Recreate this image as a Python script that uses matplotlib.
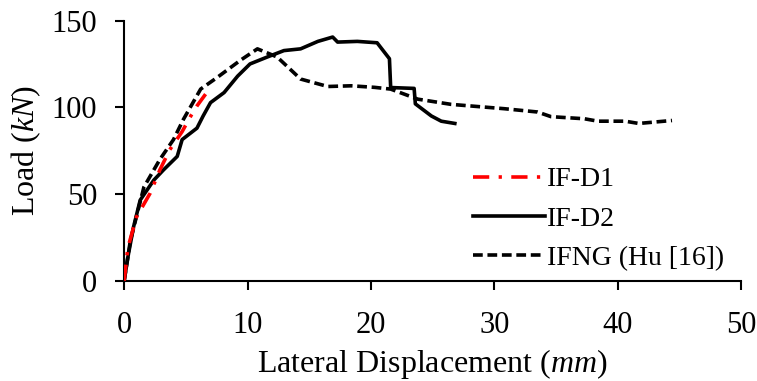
import matplotlib
matplotlib.use("Agg")
import matplotlib.pyplot as plt

plt.rcParams['font.family'] = 'Liberation Serif'
plt.rcParams['mathtext.fontset'] = 'custom'
plt.rcParams['mathtext.rm'] = 'Liberation Serif'
plt.rcParams['mathtext.it'] = 'Liberation Serif:italic'

# curvas carga-desplazamiento
d1_x = [0, 0.3, 1.0, 2.1, 2.9, 3.7, 4.7, 5.4, 5.9, 6.6]
d1_y = [0, 19, 36.8, 50.4, 64, 75.6, 86, 95, 100.8, 107.6]

d2_x = [0, 0.35, 0.76, 1.3, 2.4, 3.2, 4.3, 4.7, 5.9, 6.4, 7.0, 8.1, 9.2, 10.2, 11.6,
        12.95, 14.3, 15.7, 16.9, 17.3, 18.9, 20.5, 21.5, 21.6, 23.5, 23.6, 24.9, 25.7, 26.8]
d2_y = [0, 15.5, 31, 46.5, 58, 64, 71.7, 81.4, 88, 95, 102.7, 108.5, 118, 125, 129,
        132.7, 133.7, 138, 140.5, 137.6, 138, 137.2, 128, 111.4, 110.9, 102, 95, 92, 90.7]

ifng_x = [0, 0.5, 1.6, 2.9, 4.0, 4.8, 6.2, 7.5, 9.4, 10.8, 12.4, 14.3, 16.5, 18.4, 20.3,
          21.6, 23.8, 26.5, 30.8, 33.5, 34.6, 37.3, 38.4, 40.6, 41.7, 44.4]
ifng_y = [0, 23, 54, 70, 81.4, 93, 110.5, 117, 127, 133.7, 129, 116.3, 112, 112.4, 111.5,
          110.5, 104.7, 101.7, 99.2, 97.3, 94.6, 93.4, 92, 92, 90.7, 92.4]

x_ticks = [0, 10, 20, 30, 40, 50]
y_ticks = [0, 50, 100, 150]

fig = plt.figure(figsize=(7.57, 3.81), dpi=100)
ax = fig.add_axes([0.164, 0.263, 0.815, 0.683])

ax.plot(d1_x, d1_y, color='red', lw=2.6, dashes=(4.5, 2.6, 0.9, 2.6), label='IF-D1', zorder=3)
ax.plot(d2_x, d2_y, color='black', lw=2.6, label='IF-D2')
ax.plot(ifng_x, ifng_y, color='black', lw=2.6, dashes=(2.7, 1.3), label='IFNG (Hu [16])')

ax.set_xlim(0, 50)
ax.set_ylim(0, 150)
ax.set_xticks(x_ticks)
ax.set_yticks(y_ticks)
ax.spines['top'].set_visible(False)
ax.spines['right'].set_visible(False)
ax.spines['left'].set_linewidth(1.5)
ax.spines['bottom'].set_linewidth(1.5)
ax.tick_params(direction='out', length=6.5, width=1.5, labelsize=22)
ax.tick_params(axis='x', pad=15)
ax.tick_params(axis='y', pad=13)

ax.set_xlabel(r'Lateral Displacement ($mm$)', fontsize=23, labelpad=5)
ax.set_ylabel(r'Load ($kN$)', fontsize=23, labelpad=6)

ax.legend(loc='lower right', bbox_to_anchor=(0.99, -0.005), frameon=False, fontsize=20,
          handlelength=2.6, handletextpad=0.05, labelspacing=0.5, borderaxespad=0)

fig.savefig('out.png', dpi=100)
